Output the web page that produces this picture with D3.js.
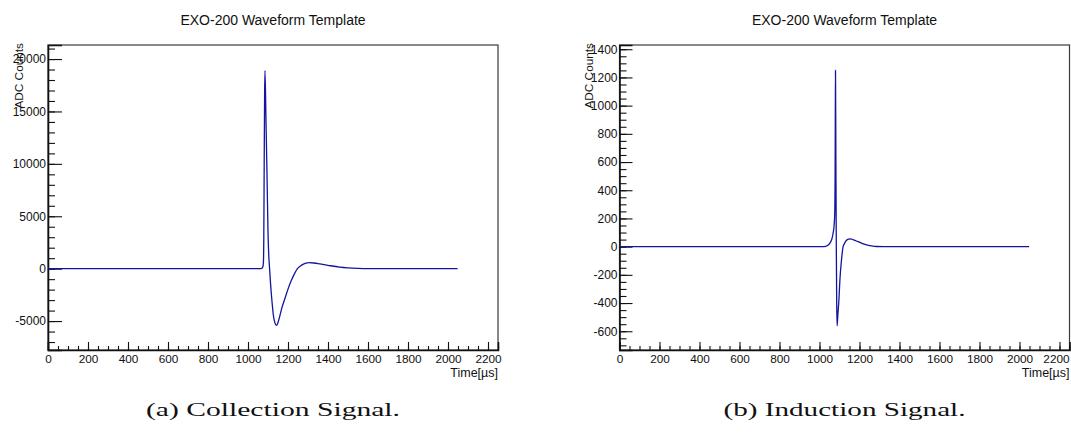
<!DOCTYPE html>
<html>
<head>
<meta charset="utf-8">
<script src="https://cdn.jsdelivr.net/npm/d3@7"></script>
<style>
  html, body { margin: 0; padding: 0; background: #fff; }
  svg { display: block; }
  .tick text { font-family: "Liberation Sans", Arial, sans-serif; }
</style>
</head>
<body>
<svg id="fig" width="1071" height="433"></svg>
<script>
// Collection-wire template: time [µs] and amplitude [ADC counts]
const collectionTime = [0, 1000, 1060, 1068, 1074, 1077, 1079, 1081, 1083, 1085, 1090, 1095, 1100, 1104, 1108,
  1113, 1118, 1128, 1135, 1142, 1149, 1158, 1170, 1187, 1200, 1217, 1232, 1247, 1262, 1275, 1290, 1305,
  1330, 1360, 1400, 1458, 1500, 1550, 1600, 1700, 1800, 2048];
const collectionADC = [0, 0, 0, 20, 150, 600, 3000, 10000, 16500, 18900, 14000, 9000, 3500, 1200, 0,
  -1500, -2700, -4600, -5200, -5410, -5200, -4600, -3700, -2710, -1950, -1116, -500, 0, 250, 410, 530, 570,
  540, 450, 320, 150, 80, 35, 12, 2, 0, 0];

// Induction-wire template
const inductionTime = [0, 1000, 1022, 1040, 1052, 1062, 1068, 1073, 1076, 1078, 1079, 1080, 1082, 1084, 1086,
  1088, 1092, 1097, 1102, 1110, 1118, 1126, 1135, 1145, 1155, 1170, 1193, 1215, 1235, 1260, 1285, 1320, 2048];
const inductionADC = [0, 0, 0, 8, 25, 55, 95, 150, 230, 500, 900, 1250, 600, 0, -400,
  -562, -480, -378, -236, -94, 0, 25, 45, 53, 55, 48, 35, 22, 12, 5, 1, 0, 0];

// Axis ranges and tick spacing
const timeRange = [0, 2250];
const timeMajor = d3.range(0, 2201, 200);
const timeMinor = d3.range(0, 2251, 50);

const collectionRange = [-7760, 21340];
const collectionMajor = d3.range(-5000, 20001, 5000);
const collectionMinor = d3.range(-7000, 21001, 1000);

const inductionRange = [-733, 1430];
const inductionMajor = d3.range(-600, 1401, 200);
const inductionMinor = d3.range(-700, 1401, 50);

const titles = ["EXO-200 Waveform Template", "EXO-200 Waveform Template"];
const captions = ["(a) Collection Signal.", "(b) Induction Signal."];
const yTitle = "ADC Counts";
const xTitle = "Time[\u00b5s]";

const svg = d3.select("#fig");
const sans = '"Liberation Sans", Arial, sans-serif';
const lineColor = "#1414a0";
const W = 1071;
// plain integer labels with an ASCII hyphen for negatives
const intLabel = d => String(Math.round(d));

const panels = [
  { left: 48, right: 498, top: 45, bottom: 350, t: collectionTime, v: collectionADC,
    yDom: collectionRange, yMaj: collectionMajor, yMin: collectionMinor, yMajLen: 14, yMinLen: 7,
    title: titles[0], caption: captions[0], yTitleX: 23, captionLen: 254 },
  { left: 619.5, right: 1069.5, top: 45, bottom: 350, t: inductionTime, v: inductionADC,
    yDom: inductionRange, yMaj: inductionMajor, yMin: inductionMinor, yMajLen: 13, yMinLen: 7,
    title: titles[1], caption: captions[1], yTitleX: 593, captionLen: 242 }
];

panels.forEach(p => {
  const x = d3.scaleLinear().domain(timeRange).range([p.left, p.right]);
  const y = d3.scaleLinear().domain(p.yDom).range([p.bottom, p.top]);
  const g = svg.append("g");
  const cx = (p.left + p.right) / 2;

  // frame
  g.append("rect")
    .attr("x", p.left).attr("y", p.top)
    .attr("width", p.right - p.left).attr("height", p.bottom - p.top)
    .attr("fill", "none").attr("stroke", "#3a3a3a").attr("stroke-width", 1.2);

  // x axis: minor and major ticks pointing inward
  const xMinorAxis = d3.axisBottom(x).tickValues(timeMinor).tickSize(-4).tickFormat("");
  const xMajorAxis = d3.axisBottom(x).tickValues(timeMajor).tickSize(-8).tickPadding(12)
    .tickFormat(intLabel);
  g.append("g").attr("transform", `translate(0,${p.bottom})`).call(xMinorAxis)
    .call(a => a.select(".domain").remove());
  const xa = g.append("g").attr("transform", `translate(0,${p.bottom})`).call(xMajorAxis);
  xa.select(".domain").attr("stroke", "#111").attr("stroke-width", 1.6);
  xa.selectAll("text").attr("font-size", 11.8).attr("fill", "#111")
    .attr("y", 12.5).attr("dy", 0);
  // keep the outermost label inside the page
  xa.selectAll(".tick").each(function () {
    const txt = d3.select(this).select("text");
    const box = txt.node().getBBox();
    const tr = this.transform.baseVal.consolidate();
    if (tr) {
      const rightEdge = tr.matrix.e + box.x + box.width;
      if (rightEdge > W - 1) txt.attr("x", (W - 1) - rightEdge);
    }
  });

  // y axis
  const yMinorAxis = d3.axisLeft(y).tickValues(p.yMin).tickSize(-p.yMinLen).tickFormat("");
  const yMajorAxis = d3.axisLeft(y).tickValues(p.yMaj).tickSize(-p.yMajLen).tickPadding(2)
    .tickFormat(intLabel);
  g.append("g").attr("transform", `translate(${p.left},0)`).call(yMinorAxis)
    .call(a => a.select(".domain").remove());
  const ya = g.append("g").attr("transform", `translate(${p.left},0)`).call(yMajorAxis);
  ya.select(".domain").attr("stroke", "#111").attr("stroke-width", 1.6);
  ya.selectAll("text").attr("font-size", 12).attr("fill", "#111")
    .attr("x", -2);
  g.selectAll(".tick line").attr("stroke", "#111").attr("stroke-width", 1.1);

  // waveform
  const line = d3.line()
    .x((d, i) => x(p.t[i]))
    .y(d => y(d))
    .curve(d3.curveMonotoneX);
  g.append("path").datum(p.v)
    .attr("d", line)
    .attr("fill", "none").attr("stroke", lineColor).attr("stroke-width", 1.3);

  // titles
  g.append("text").attr("x", cx).attr("y", 25).attr("text-anchor", "middle")
    .attr("font-family", sans).attr("font-size", 14).attr("fill", "#111").text(p.title);
  g.append("text").attr("transform", `translate(${p.yTitleX},${p.top - 2}) rotate(-90)`)
    .attr("text-anchor", "end")
    .attr("font-family", sans).attr("font-size", 11.8).attr("fill", "#111").text(yTitle);
  g.append("text").attr("x", p.right).attr("y", 376.5).attr("text-anchor", "end")
    .attr("font-family", sans).attr("font-size", 12.5).attr("fill", "#111").text(xTitle);

  // caption
  g.append("text").attr("x", cx).attr("y", 416).attr("text-anchor", "middle")
    .attr("font-family", '"Liberation Serif", "DejaVu Serif", serif').attr("font-size", 19)
    .attr("fill", "#111")
    .attr("textLength", p.captionLen).attr("lengthAdjust", "spacingAndGlyphs")
    .text(p.caption);
});
</script>
</body>
</html>
